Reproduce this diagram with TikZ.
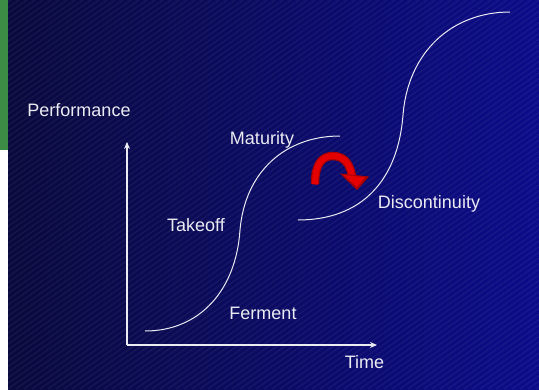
\documentclass[tikz,border=0pt]{standalone}
\usepackage{fontspec}
\setmainfont{Liberation Sans}
\usetikzlibrary{arrows.meta}
\definecolor{bgleft}{RGB}{10,10,62}
\definecolor{bgright}{RGB}{12,12,138}
\definecolor{sidegreen}{RGB}{60,140,70}
\definecolor{txt}{RGB}{235,235,242}
\definecolor{arrowred}{RGB}{228,0,0}
\definecolor{arrowdark}{RGB}{170,0,0}
\tikzset{
  lbl/.style={text=txt, font=\fontsize{18}{20}\selectfont, anchor=base, inner sep=0pt},
  curve/.style={draw=txt, line width=1pt},
  axis/.style={draw=txt, line width=1.1pt, -{Stealth[length=7pt,width=6pt]}},
  stripe/.style={draw=white, opacity=0.055, line width=1.2pt}
}
\begin{document}
\begin{tikzpicture}[x=1pt,y=-1pt]
\useasboundingbox (0,0) rectangle (539,389);
% side strip
\fill[white] (0,0) rectangle (8,389);
\fill[sidegreen] (0,0) rectangle (8,150);
% background
\shade[left color=bgleft, right color=bgright] (8,0) rectangle (539,389);
\begin{scope}
\clip (8,0) rectangle (539,389);
\foreach \x in {-560,-552,...,540} {
  \draw[stripe] (\x,389) -- ({\x+555},0);
}
\end{scope}
% axes
\coordinate (o) at (127,345);
\coordinate (ytop) at (127,142);
\coordinate (xend) at (377,345);
\draw[axis] (o) -- (ytop);
\draw[axis] (o) -- (xend);
% S-curve 1
\coordinate (c1s) at (145,331);
\coordinate (c1m) at (240,230);
\coordinate (c1e) at (340,136);
\draw[curve] (c1s) .. controls (200,331) and (236,290) .. (c1m)
  .. controls (245,172) and (285,136) .. (c1e);
% S-curve 2
\coordinate (c2s) at (298,220);
\coordinate (c2m) at (403,115);
\coordinate (c2e) at (510,12);
\draw[curve] (c2s) .. controls (362,220) and (398,180) .. (c2m)
  .. controls (408,52) and (452,12) .. (c2e);
% red curved arrow
\coordinate (ra) at (315,184);
\coordinate (rb) at (333,156);
\coordinate (rc) at (352,176);
\draw[arrowdark, line width=8.5pt] (ra) .. controls (315,164) and (322,156) .. (rb)
  .. controls (344,156) and (350,164) .. (rc);
\draw[arrowred, line width=6pt] (315,184.5) .. controls (315,164) and (322,156) .. (rb)
  .. controls (344,156) and (350,164) .. (rc);
\fill[arrowdark] (340,173.5) -- (369,176.5) -- (357,190) -- cycle;
\fill[arrowred] (343.5,175) -- (365,177.3) -- (357,187) -- cycle;
% labels
\node[lbl] (perf) at (79,116) {Performance};
\node[lbl] (mat) at (262,144) {Maturity};
\node[lbl] (take) at (196,231) {Takeoff};
\node[lbl] (ferm) at (263,319) {Ferment};
\node[lbl] (time) at (364.5,368) {Time};
\node[lbl] (disc) at (429,208) {Discontinuity};
\end{tikzpicture}
\end{document}
